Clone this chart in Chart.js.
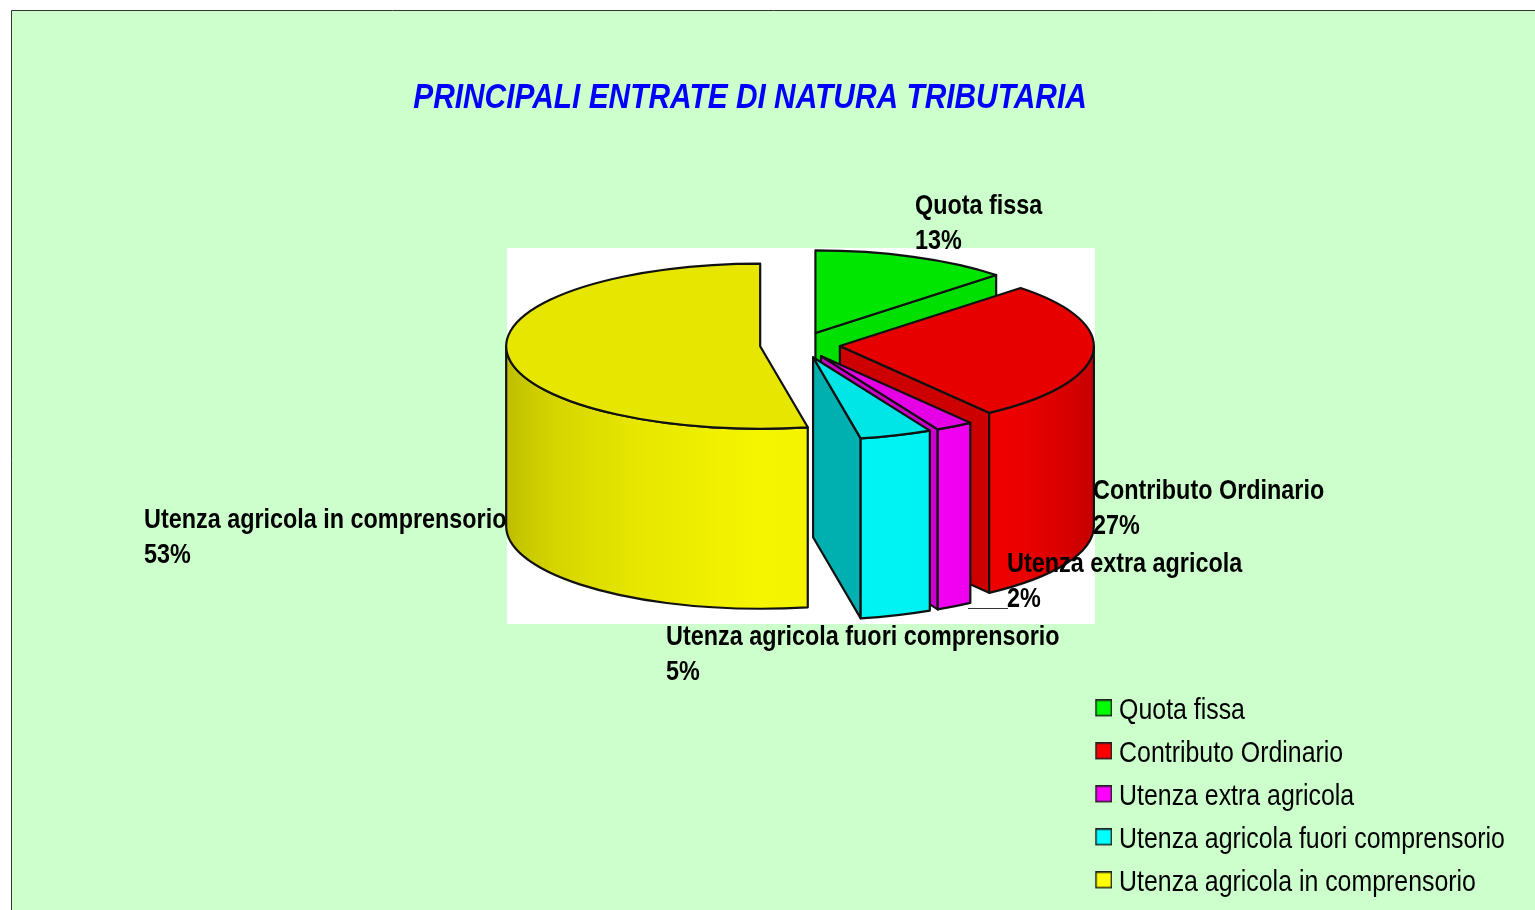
<!DOCTYPE html>
<html lang="it">
<head>
<meta charset="utf-8">
<title>Principali entrate di natura tributaria</title>
<script src="https://cdn.jsdelivr.net/npm/chart.js@4/dist/chart.umd.min.js"></script>
<style>
html,body{margin:0;padding:0;background:#fff;overflow:hidden}
canvas{display:block}
</style>
</head>
<body>
<canvas id="c" width="1535" height="910"></canvas>
<script>
// ---- data ----
const titleText = 'PRINCIPALI ENTRATE DI NATURA TRIBUTARIA';
const categories = ['Quota fissa', 'Contributo Ordinario', 'Utenza extra agricola', 'Utenza agricola fuori comprensorio', 'Utenza agricola in comprensorio'];
const values = [12.6, 27.4, 2.4, 4.6, 53];

// ---- styles ----
const baseColors = ['#00FF00', '#FF0000', '#FF00FF', '#00FFFF', '#FFFF00'];
const topColors  = ['#00E600', '#E60000', '#E600E6', '#00E6E6', '#E6E600'];
const cutColors  = ['#00E000', '#CC0000', '#CC00CC', '#00B0B0', '#CCCC00'];
const FONT = '"Liberation Sans", Arial, sans-serif';
const TEXT_NARROW = 0.835; // the reference uses a condensed face

// ---- layout of the drawing ----
const pie = {cx: 800, cy: 345, squash: 0.325, depth: 180, radius: 254, explode: 40};
const plate = {x: 507, y: 248, w: 588, h: 376};
const frame = {x: 11, y: 10};
const labelAnchors = [[915, 206], [1093, 491], [1007, 564], [666, 637], [144, 520]];
const labelLineGap = 35;
const leader = {x1: 968, x2: 1008, y: 608.5};
const legendSpot = {left: 1088, bottom: 911};

function shade(hex, f) {
  const n = parseInt(hex.slice(1), 16);
  const r = Math.round(((n >> 16) & 255) * f), g = Math.round(((n >> 8) & 255) * f), b = Math.round((n & 255) * f);
  return `rgb(${r},${g},${b})`;
}
function legendSwatch(color) {
  const s = document.createElement('canvas');
  s.width = 19; s.height = 23;
  const x = s.getContext('2d');
  x.fillStyle = color; x.fillRect(2, 0, 17, 17);
  x.strokeStyle = '#222'; x.lineWidth = 1.5; x.strokeRect(2.75, 0.75, 15.5, 15.5);
  return s;
}
function chartCentre(chart) {
  return {x: (chart.chartArea.left + chart.chartArea.right) / 2, y: (chart.chartArea.top + chart.chartArea.bottom) / 2};
}
// Geometry of one slice in page space, from the library's own arc element
function sliceGeom(arc, chart) {
  const o = chartCentre(chart);
  const p = arc.getProps(['x', 'y', 'startAngle', 'endAngle', 'outerRadius']);
  return {
    x: pie.cx + (p.x - o.x),
    y: pie.cy + (p.y - o.y) * pie.squash,
    a: p.startAngle, b: p.endAngle, r: p.outerRadius
  };
}
function px(g, t) { return g.x + g.r * Math.cos(t); }
function py(g, t) { return g.y + g.r * pie.squash * Math.sin(t); }

const pie3d = {
  id: 'pie3d',
  install(chart) {
    // real text, horizontally condensed about its anchor
    const c = chart.ctx, fill = c.fillText.bind(c);
    c.fillText = function (t, x, y) {
      c.save();
      c.translate(x, y);
      c.scale(TEXT_NARROW, 1);
      fill(t, 0, 0);
      c.restore();
    };
  },
  afterDatasetsUpdate(chart) {
    // pull every slice out along its own middle angle
    chart.getDatasetMeta(0).data.forEach(arc => {
      const mid = (arc.startAngle + arc.endAngle) / 2;
      arc.x += Math.cos(mid) * pie.explode;
      arc.y += Math.sin(mid) * pie.explode;
    });
  },
  beforeDraw(chart) {
    const c = chart.ctx;
    c.save();
    c.fillStyle = '#fff'; c.fillRect(0, 0, chart.width, chart.height);
    c.fillStyle = '#CCFFCC'; c.fillRect(frame.x, frame.y, chart.width, chart.height);
    c.strokeStyle = '#333'; c.lineWidth = 1;
    c.beginPath();
    c.moveTo(frame.x + .5, chart.height); c.lineTo(frame.x + .5, frame.y + .5); c.lineTo(chart.width, frame.y + .5);
    c.stroke();
    c.fillStyle = '#fff'; c.fillRect(plate.x, plate.y, plate.w, plate.h);
    c.restore();
  },
  afterLayout(chart) {
    chart.titleBlock.left = 0;
    chart.titleBlock.right = 1500;
    chart.legend.left = legendSpot.left;
    chart.legend.bottom = legendSpot.bottom;
  },
  beforeDatasetsDraw(chart) {
    const c = chart.ctx;
    const arcs = chart.getDatasetMeta(0).data;
    c.save();
    c.lineWidth = 2.2; c.strokeStyle = '#111'; c.lineJoin = 'round';
    arcs.forEach((arc, i) => {
      const g = sliceGeom(arc, chart);
      // flat cut face, turned towards the viewer
      if (Math.cos(g.b) > 0.01) {
        c.beginPath();
        c.moveTo(g.x, g.y);
        c.lineTo(px(g, g.b), py(g, g.b));
        c.lineTo(px(g, g.b), py(g, g.b) + pie.depth);
        c.lineTo(g.x, g.y + pie.depth);
        c.closePath();
        c.fillStyle = cutColors[i];
        c.fill(); c.stroke();
      }
      // curved wall: only its front half shows
      const from = Math.max(g.a, 0), to = Math.min(g.b, Math.PI);
      if (to > from) {
        const grad = c.createLinearGradient(g.x - g.r, 0, g.x + g.r, 0);
        [[0, .74], [.03, .78], [.1, .84], [.25, .9], [.5, .96], [.72, .95], [.86, .92], [.95, .84], [1, .78]]
          .forEach(([s, f]) => grad.addColorStop(s, shade(baseColors[i], f)));
        c.beginPath();
        c.ellipse(g.x, g.y, g.r, g.r * pie.squash, 0, from, to);
        c.lineTo(px(g, to), py(g, to) + pie.depth);
        c.ellipse(g.x, g.y + pie.depth, g.r, g.r * pie.squash, 0, to, from, true);
        c.closePath();
        c.fillStyle = grad;
        c.fill(); c.stroke();
      }
    });
    c.restore();
    // the library's arcs become the squashed top faces
    const o = chartCentre(chart);
    c.save();
    c.translate(pie.cx, pie.cy);
    c.scale(1, pie.squash);
    c.translate(-o.x, -o.y);
  },
  afterDatasetsDraw(chart) {
    const c = chart.ctx;
    c.restore();
    c.save();
    c.lineWidth = 2.2; c.strokeStyle = '#111'; c.lineJoin = 'round';
    chart.getDatasetMeta(0).data.forEach(arc => {
      const g = sliceGeom(arc, chart);
      c.beginPath();
      c.moveTo(g.x, g.y);
      c.ellipse(g.x, g.y, g.r, g.r * pie.squash, 0, g.a, g.b);
      c.closePath();
      c.stroke();
    });
    c.restore();
  },
  afterDraw(chart) {
    const c = chart.ctx;
    const total = values.reduce((s, v) => s + v, 0);
    c.save();
    c.strokeStyle = '#333'; c.lineWidth = 1;
    c.beginPath(); c.moveTo(leader.x1, leader.y); c.lineTo(leader.x2, leader.y); c.stroke();
    c.fillStyle = '#000';
    c.font = `bold 28px ${FONT}`;
    c.textAlign = 'left'; c.textBaseline = 'middle';
    categories.forEach((name, i) => {
      const [x, y] = labelAnchors[i];
      c.fillText(name, x, y);
      c.fillText(Math.round(values[i] / total * 100) + '%', x, y + labelLineGap);
    });
    c.restore();
  }
};

new Chart(document.getElementById('c'), {
  type: 'pie',
  data: {
    labels: categories,
    datasets: [{
      data: values,
      backgroundColor: topColors,
      borderWidth: 0,
      radius: pie.radius
    }]
  },
  options: {
    responsive: false,
    animation: false,
    events: [],
    plugins: {
      tooltip: {enabled: false},
      title: {
        display: true,
        text: titleText,
        color: '#0000FF',
        font: {family: FONT, size: 35.8, weight: 'bold', style: 'italic'},
        padding: {top: 77, bottom: 0}
      },
      legend: {
        position: 'right',
        align: 'end',
        labels: {
          color: '#000',
          font: {family: FONT, size: 29.8},
          boxWidth: 3,
          boxHeight: 16,
          padding: 13.2,
          usePointStyle: true,
          generateLabels: () => categories.map((text, i) => ({
            text, index: i, fontColor: '#000', hidden: false,
            fillStyle: baseColors[i], strokeStyle: '#000', lineWidth: 1,
            pointStyle: legendSwatch(baseColors[i])
          }))
        }
      }
    }
  },
  plugins: [pie3d]
});
</script>
</body>
</html>
